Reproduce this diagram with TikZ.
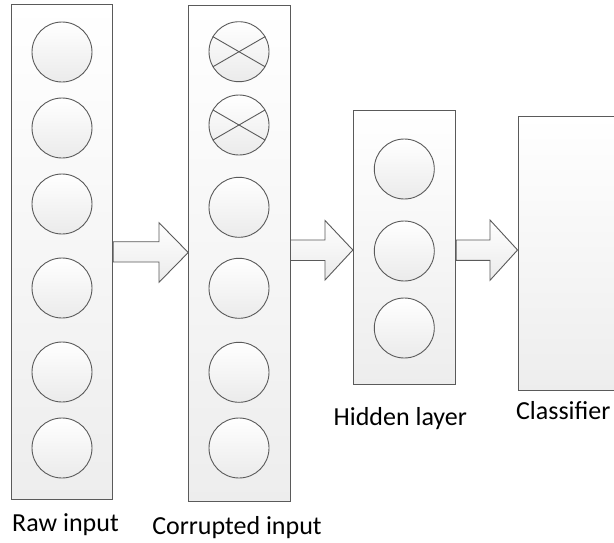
\documentclass[tikz,border=0pt]{standalone}
\usepackage{fontspec}
\setmainfont{Carlito}
\usetikzlibrary{calc}
\definecolor{edge}{HTML}{5A5A5A}
\tikzset{
  layerbox/.style={draw=edge, line width=0.9pt, top color=white, bottom color=black!7, inner sep=0pt},
  unit/.style={circle, draw=edge, line width=0.9pt, top color=white, bottom color=black!8, minimum size=60pt, inner sep=0pt},
  barrow/.style={draw=edge, line width=0.9pt, line join=miter, top color=white, bottom color=black!8},
  lbl/.style={anchor=base, inner sep=0pt, font=\fontsize{26}{30}\selectfont},
  xline/.style={draw=edge, line width=0.9pt}
}
\begin{document}
\begin{tikzpicture}[x=1pt, y=-1pt]
\clip (0,0) rectangle (614,542);
\fill[white] (0,0) rectangle (614,542);
% layer boxes
\node[layerbox, minimum width=101.7pt, minimum height=495pt] (raw) at (61.85,251.5) {};
\node[layerbox, minimum width=101.3pt, minimum height=495.7pt] (corr) at (239.35,253.2) {};
\node[layerbox, minimum width=102.4pt, minimum height=273.3pt] (hid) at (404.5,247.35) {};
\node[layerbox, minimum width=140pt, minimum height=274pt] (cls) at (588,253) {};
% raw units
\foreach \i/\y in {1/52,2/128,3/204,4/288,5/372,6/448}
  \node[unit] (r\i) at (62,\y) {};
% corrupted units
\foreach \i/\y in {1/51.7,2/125,3/207.3,4/288.3,5/372.3,6/448}
  \node[unit] (c\i) at (239,\y) {};
\foreach \i in {1,2}{
  \draw[xline] (c\i.150) -- (c\i.-30);
  \draw[xline] (c\i.210) -- (c\i.30);
}
% hidden units
\foreach \i/\y in {1/169,2/251,3/328}
  \node[unit] (h\i) at (404.3,\y) {};
% block arrows
\draw[barrow] (raw.east |- 0,241.7) -- (159,241.7) -- (159,222.7) -- (corr.west |- 0,252.5)
  -- (159,282.3) -- (159,262) -- (raw.east |- 0,262) -- cycle;
\draw[barrow] (corr.east |- 0,240) -- (325,240) -- (325,220.5) -- (hid.west |- 0,250)
  -- (325,280) -- (325,260.5) -- (corr.east |- 0,260.5) -- cycle;
\draw[barrow] (hid.east |- 0,240) -- (490,240) -- (490,220) -- (cls.west |- 0,250)
  -- (490,280.3) -- (490,260.3) -- (hid.east |- 0,260.3) -- cycle;
% labels
\node[lbl] (lraw) at (65.5,531.7) {Raw input};
\node[lbl] (lcorr) at (237,534) {Corrupted input};
\node[lbl] (lhid) at (400.3,425) {Hidden layer};
\node[lbl] (lcls) at (563.3,419.3) {Classifier};
\end{tikzpicture}
\end{document}
